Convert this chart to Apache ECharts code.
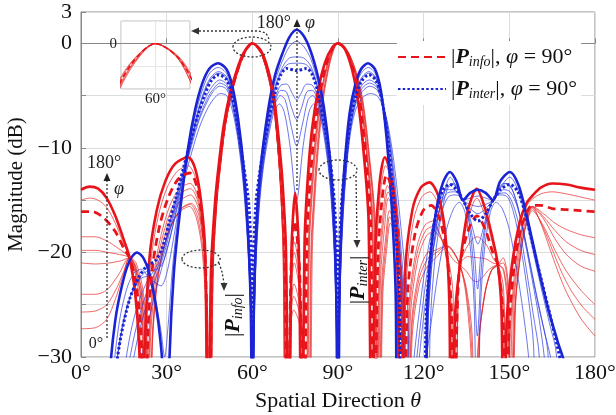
<!DOCTYPE html>
<html>
<head>
<meta charset="utf-8">
<script src="https://cdn.jsdelivr.net/npm/echarts@6/dist/echarts.min.js"></script>
<style>
html, body { margin: 0; padding: 0; background: #fff; }
#chart { width: 616px; height: 415px; }
</style>
</head>
<body>
<div id="chart"></div>
<script>
// beam patterns, [theta (deg), magnitude (dB)]
// |P_info| family, outer (thick) curve first
const red180 = [[0,-14],[3,-13.7],[6,-13.9],[9,-14.8],[12,-16.5],[15,-18.8],[17,-20.5],[19,-24],[20.5,-30],[21.3,-45],[22.2,-30],[24,-20.5],[26.5,-16],[29.5,-13.2],[33,-11.5],[37.5,-10.9],[40,-12],[42,-15],[43.5,-20],[44.5,-45],
  [45.5,-22],[47,-15],[48.5,-11],[50,-7.8],[52,-5],[54.5,-2.6],[57,-0.9],[60,0],[63,-0.7],[65.5,-2.5],[67.5,-5],[69,-8.5],[70.5,-13],[71.8,-20],[72.8,-45],
  [73.7,-20],[75,-14.3],[76.3,-20],[77.3,-45],
  [78.3,-19],[79.5,-12.5],[81,-8],[83,-4.5],[85.5,-1.8],[88,-0.4],[90,0],[92.5,-0.6],[95,-2.6],[97,-5.5],[99,-10.5],[100.7,-17],[101.8,-45],
  [103,-20],[104.5,-13.5],[106.4,-10.9],[108.5,-12.5],[110.5,-17],[112,-45],
  [113.5,-22],[116,-16],[119,-13.8],[122,-13.3],[125,-14.5],[127.5,-18],[129,-25],[129.5,-45],
  [131,-26],[132.7,-21.2],[135.5,-16],[138.6,-13.9],[141.5,-15.8],[144,-18.5],[146,-21.2],[147.3,-26],[148,-45],
  [149,-27],[151,-21],[153.5,-17.2],[156,-15.3],[158,-14.6],[161,-13.8],[165,-13.4],[170,-13.5],[175,-13.8],[180,-14]];
const red150 = [[0,-15],[3,-14.8],[6,-15],[9,-15.7],[12,-17.2],[15,-19.2],[17,-20.5],[19,-23.2],[20.8,-29],[21.7,-45],[22.7,-29],[24.4,-21],[27,-16.6],[30,-13.9],[33.5,-12.3],[37.5,-11.7],[40,-12.8],[42,-15.7],[43.5,-20.8],[44.6,-45],
  [45.6,-22],[47.1,-15],[48.6,-11],[50.1,-7.8],[52.1,-5],[54.6,-2.6],[57.1,-0.9],[60,0],[62.9,-0.7],[65.4,-2.5],[67.4,-5],[68.9,-8.5],[70.3,-13],[71.6,-20],[72.6,-45],
  [73.6,-21],[74.9,-15.6],[76.4,-21],[77.6,-45],
  [78.7,-19],[79.9,-12.8],[81.4,-8.2],[83.3,-4.6],[85.7,-1.8],[88.1,-0.4],[90,0],[92.6,-0.6],[95.2,-2.6],[97.3,-5.5],[99.3,-10.5],[101,-17],[102.2,-45],
  [103.4,-20.5],[104.9,-14.2],[106.7,-11.7],[108.8,-13.3],[110.8,-17.8],[112.4,-45],
  [113.9,-23],[116.4,-17],[119.3,-14.7],[122.2,-14.2],[125.2,-15.5],[127.7,-19],[129.5,-26],[130,-45],
  [131.3,-27],[132.7,-21.2],[135.5,-16.9],[138.6,-14.8],[141.6,-16.6],[144,-19],[146,-21.2],[147.6,-26],[148.4,-45],
  [149.4,-27],[151.3,-21.2],[153.8,-17.3],[156.2,-15.5],[158,-14.9],[161,-14.4],[165,-14.2],[170,-14.4],[175,-14.7],[180,-15]];
const red90 = [[0,-16.1],[4,-16.1],[8,-16.7],[12,-18],[15,-19.6],[17,-20.5],[19,-22.6],[21,-27.5],[22.2,-45],[23.4,-28],[25,-21.5],[27.5,-17.5],[30.5,-14.8],[34,-13],[38,-12.4],[40.5,-13.6],[42.3,-16.6],[43.7,-22],[44.8,-45],
  [45.8,-22],[47.3,-15],[48.8,-11],[50.3,-7.8],[52.3,-5],[54.8,-2.6],[57.2,-0.9],[60,0],[62.8,-0.7],[65.3,-2.5],[67.3,-5],[68.8,-8.6],[70.1,-13.2],[71.4,-20.3],[72.4,-45],
  [73.5,-22],[74.8,-17],[76.6,-22],[78,-45],
  [79.1,-19],[80.3,-13],[81.8,-8.4],[83.6,-4.7],[86,-1.9],[88.2,-0.4],[90,0],[92.7,-0.6],[95.4,-2.6],[97.6,-5.5],[99.6,-10.5],[101.4,-17],[102.7,-45],
  [103.9,-21],[105.4,-15],[107,-12.6],[109.1,-14.2],[111.2,-18.8],[112.8,-45],
  [114.4,-24],[116.9,-18.3],[119.8,-16],[122.6,-15.5],[125.5,-16.7],[128,-20],[129.8,-26],[130.4,-45],
  [131.6,-27],[132.7,-21.2],[135.6,-17.9],[138.7,-16.5],[141.7,-17.9],[144.2,-20],[146,-21.2],[147.9,-27],[148.8,-45],
  [149.8,-28],[151.6,-21.5],[154,-17.8],[156.4,-16],[158,-15.5],[161,-15.5],[165,-15.8],[170,-15.9],[175,-16],[180,-16.1]];
const red60 = [[0,-18.5],[5,-18.5],[9,-18.9],[13,-19.6],[17,-20.5],[19,-22],[21.2,-26],[22.6,-45],[23.9,-28],[25.6,-22],[28,-18.4],[31,-15.6],[34.5,-13.9],[38.2,-13.4],[40.8,-14.6],[42.6,-17.6],[43.9,-23],[45,-45],
  [46,-22],[47.4,-15],[48.9,-11],[50.4,-7.8],[52.4,-5],[54.9,-2.6],[57.3,-0.9],[60,0],[62.8,-0.7],[65.2,-2.5],[67.2,-5.1],[68.7,-8.6],[70,-13.3],[71.2,-20.5],[72.2,-45],
  [73.4,-23.5],[74.8,-19],[76.8,-23.5],[78.5,-45],
  [79.6,-19.5],[80.8,-13.3],[82.2,-8.6],[84,-4.8],[86.3,-1.9],[88.4,-0.4],[90,0],[92.8,-0.6],[95.6,-2.6],[97.9,-5.5],[100,-10.5],[101.8,-17],[103.2,-45],
  [104.4,-21.5],[105.9,-16],[107.3,-13.6],[109.4,-15.2],[111.6,-20],[113.2,-45],
  [114.9,-25],[117.5,-19.6],[120.4,-17.4],[123.2,-17],[125.8,-18.3],[128.3,-21],[130,-27],[130.8,-45],
  [131.9,-26],[132.7,-21.2],[135.7,-19.2],[138.7,-18.5],[141.8,-19.2],[144.4,-20.6],[146,-21.2],[148,-25],[149.2,-45],
  [150.3,-28],[152,-21.5],[154.3,-17.6],[156.5,-16],[158,-15.6],[162,-16.3],[166,-17.2],[170,-17.8],[175,-18.3],[180,-18.6]];
const red52 = [[0,-19.8],[5,-19.8],[9.5,-20],[13.5,-20.2],[17,-20.5],[19.1,-21.7],[21.3,-25.2],[22.8,-45],[24.1,-28],[25.9,-22.2],[28.3,-18.8],[31.3,-16.1],[34.7,-14.4],[38.3,-13.9],[40.9,-15.1],[42.7,-18.2],[44,-23.7],[45,-45],
  [46,-22],[47.4,-15],[48.9,-11],[50.4,-7.8],[52.4,-5],[54.9,-2.6],[57.3,-0.9],[60,0],[62.7,-0.7],[65.1,-2.5],[67.1,-5.1],[68.6,-8.6],[69.9,-13.3],[71.1,-20.5],[72.1,-45],
  [73.3,-24.2],[74.7,-20],[76.9,-24.2],[78.8,-45],
  [79.8,-19.5],[81,-13.4],[82.4,-8.7],[84.1,-4.8],[86.4,-1.9],[88.4,-0.4],[90,0],[92.8,-0.6],[95.7,-2.6],[98,-5.5],[100.1,-10.5],[102,-17],[103.4,-45],
  [104.6,-22],[106.1,-16.6],[107.5,-14.2],[109.5,-15.8],[111.7,-20.5],[113.4,-45],
  [115.1,-25.5],[117.7,-20.1],[120.7,-17.9],[123.5,-17.5],[126,-18.5],[128.5,-20.5],[130.3,-24],[131.2,-45],[132,-25],[132.7,-21.2],[135.4,-20.4],[138.7,-20.5],[141.6,-20.6],[144.2,-21],[146,-21.2],[148,-23.5],[149.8,-45],
  [151,-26],[152.9,-20.5],[155,-17.1],[156.8,-15.9],[158,-15.6],[162,-16.6],[166,-17.9],[170,-19],[175,-19.8],[180,-20.2]];
const red45 = [[0,-21],[5,-21.1],[10,-21],[14,-20.8],[17,-20.5],[19.2,-21.5],[21.5,-24.6],[23,-45],[24.4,-28],[26.3,-22.4],[28.6,-19.2],[31.6,-16.6],[35,-15],[38.4,-14.5],[41,-15.7],[42.8,-18.8],[44.1,-24.5],[45.1,-45],
  [46.1,-22],[47.5,-15],[49,-11],[50.5,-7.8],[52.5,-5],[55,-2.6],[57.4,-0.9],[60,0],[62.7,-0.7],[65.1,-2.5],[67.1,-5.1],[68.6,-8.7],[69.9,-13.4],[71,-20.6],[72,-45],
  [73.3,-25],[74.7,-21],[77,-25],[79,-45],
  [80,-19.5],[81.2,-13.5],[82.6,-8.8],[84.3,-4.9],[86.5,-2],[88.5,-0.4],[90,0],[92.9,-0.6],[95.8,-2.6],[98.2,-5.5],[100.3,-10.5],[102.2,-17],[103.7,-45],
  [104.9,-22.5],[106.4,-17.3],[107.6,-14.8],[109.7,-16.4],[111.9,-21],[113.6,-45],
  [115.4,-26],[118,-20.6],[121,-18.4],[123.8,-18],[126.3,-18.8],[128.7,-20],[130.7,-20.8],[132.7,-21.2],[135,-21.8],[137,-22.6],[138.6,-22.8],[140.5,-22.4],[143,-21.6],[146,-21.2],[148,-21.8],[149.5,-26],[150.4,-45],
  [151.6,-25],[153.8,-19.6],[156,-16.6],[158,-15.7],[162,-16.8],[166,-18.7],[170,-20.2],[175,-21.3],[180,-21.8]];
const red30 = [[0,-24],[5,-24],[9,-23.6],[13,-22.2],[17,-20.5],[19.3,-21],[21.8,-23.8],[23.4,-30],[24.1,-45],[25,-29],[26.8,-22.8],[29.2,-19.4],[32.3,-17],[35.5,-15.7],[38.6,-15.3],[41.2,-16.4],[43,-19.6],[44.3,-25.5],[45.2,-45],
  [46.2,-22],[47.6,-15],[49.1,-11],[50.6,-7.8],[52.6,-5],[55.1,-2.6],[57.5,-0.9],[60,0],[62.7,-0.7],[65,-2.6],[67,-5.1],[68.5,-8.7],[69.8,-13.5],[70.9,-20.6],[71.8,-45],
  [73.2,-26.5],[74.6,-23],[77.3,-26.5],[79.5,-45],
  [80.5,-20],[81.7,-13.8],[83,-9],[84.7,-5],[86.8,-2],[88.6,-0.4],[90,0],[93,-0.6],[96,-2.6],[98.5,-5.6],[100.7,-10.6],[102.6,-17],[104.1,-45],
  [105.3,-23],[106.8,-18.3],[108,-16],[110,-17.5],[112.2,-22],[113.9,-45],
  [115.7,-27],[118.3,-22],[121.3,-20],[124,-19.8],[126.3,-19.5],[128.5,-19.4],[130.6,-20],[132.7,-21.2],[135,-23.5],[137,-28],[138.3,-45],[139.6,-28],[141.8,-23.5],[144,-21.6],[146,-21.2],[148,-21.6],[149.6,-25],[150.6,-45],
  [151.8,-26],[154,-20],[156,-17.3],[158,-16],[162,-17.5],[166,-19.8],[170,-21.8],[175,-23.6],[180,-25]];
const red15 = [[0,-25.7],[5,-25.6],[9,-25],[12.5,-23.4],[15,-21.8],[17,-20.5],[19.2,-21.3],[21.7,-24.4],[23.2,-30],[24,-45],[24.9,-29],[26.6,-22.9],[29.1,-19.4],[32.1,-17.1],[35.2,-15.8],[38.3,-15.4],[40.8,-16.6],[42.7,-19.8],[44.1,-26.2],[45.2,-45],
  [46.2,-22],[47.6,-15],[49.1,-11],[50.6,-7.8],[52.6,-5],[55,-2.6],[57.4,-0.9],[60,0],[62.7,-0.7],[65,-2.6],[67,-5.1],[68.5,-8.7],[69.8,-13.5],[70.8,-20.5],[71.7,-45],
  [73.1,-27.2],[74.5,-24.2],[77.4,-27.2],[79.7,-45],
  [80.7,-20],[81.9,-13.9],[83.2,-9.1],[84.8,-5],[86.9,-2],[88.6,-0.4],[90,0],[93,-0.6],[96.1,-2.6],[98.6,-5.6],[100.8,-10.6],[102.8,-17],[104.3,-45],
  [105.5,-23.5],[107,-18.8],[108.1,-16.6],[110.1,-18],[112.3,-22.5],[114,-45],
  [115.8,-27.5],[118.4,-22.5],[121.4,-20.6],[124.1,-20.1],[126.4,-19.6],[128.5,-19.4],[130.6,-20],[132.7,-21.2],[134.9,-23.7],[136.8,-29],[137.9,-45],[139.2,-29],[141.4,-24],[143.8,-21.7],[146,-21.2],[147.9,-21],[149.6,-24],[150.7,-45],
  [152,-25.5],[154.1,-19.8],[156.1,-17],[158,-15.8],[161.5,-17.4],[165,-19.7],[168.5,-22],[172,-23.8],[176,-25.3],[180,-26.4]];
const red0 = [[0,-27.3],[5,-27.2],[9,-26.4],[12,-24.5],[14.5,-22.4],[17,-20.5],[19,-21.5],[21.5,-25],[23,-30],[23.8,-45],[24.8,-29],[26.5,-23],[29,-19.5],[32,-17.2],[35,-16],[38,-15.6],[40.5,-16.8],[42.5,-20],[44,-27],[45.3,-45],
  [46.3,-22],[47.7,-15],[49.2,-11],[50.6,-7.8],[52.6,-5],[55,-2.6],[57.4,-0.9],[60,0],[62.7,-0.7],[65,-2.6],[67,-5.1],[68.5,-8.7],[69.8,-13.5],[70.8,-20.5],[71.6,-45],
  [73,-28],[74.5,-25.5],[77.5,-28],[80,-45],
  [81,-20],[82.1,-14],[83.4,-9.2],[85,-5.1],[87,-2.1],[88.7,-0.5],[90,0],[93.1,-0.6],[96.2,-2.6],[98.8,-5.6],[101,-10.7],[103,-17],[104.5,-45],
  [105.7,-24],[107.2,-19.3],[108.3,-17.2],[110.3,-18.6],[112.5,-23],[114.2,-45],
  [116,-28],[118.6,-23],[121.6,-21.2],[124.3,-20.5],[126.5,-19.8],[128.5,-19.5],[130.6,-20.1],[132.7,-21.2],[134.8,-24],[136.6,-30],[137.6,-45],[138.8,-30],[141,-24.5],[143.5,-21.8],[146,-21.2],[147.8,-20.5],[149.6,-23],[150.9,-45],
  [152.2,-25],[154.3,-19.5],[156.2,-16.8],[158,-15.6],[161,-17.2],[164,-19.5],[167,-21.8],[170,-23.8],[175,-26.3],[180,-28]];

// |P_inter| family, outer (thick) curve first
const blue180 = [[8,-45],[10,-32],[12,-26.5],[14.5,-23],[17,-20.8],[19.6,-20],[22,-20.6],[24.5,-22.6],[27,-26.5],[28.8,-32],[29.8,-45],[31,-30],[32.5,-22],[34.5,-16.5],[37.5,-10],[40,-6.3],[42.5,-3.8],[45,-2.4],[48,-1.9],[51,-2.5],[53,-4.1],[55,-7.2],[57,-12],[58.5,-18],[59.5,-26],[60,-45],
  [60.5,-26],[61.3,-18],[62.5,-13],[64,-9.3],[66,-5.6],[68,-3],[70.5,-1],[73,0.6],[75.5,1.3],[78,0.7],[80.5,-0.8],[83,-3.2],[85,-6],[87,-10.5],[88.5,-16],[89.4,-24],[90,-45],
  [90.5,-24],[91.2,-17],[92.2,-12],[94,-6.8],[96,-4],[98,-2.5],[100.5,-1.9],[103,-2.5],[105,-4.5],[107,-9],[108.8,-15.5],[110.2,-24],[111,-45],
  [115.5,-34],[120.3,-45],[121.2,-26],[122.5,-20],[124.5,-15.8],[126.8,-13.3],[129.2,-12.3],[131.5,-13.2],[133.8,-15],[136.3,-14.3],[139,-14],[141.7,-14.3],[144.3,-15],[146.8,-13.2],[150.2,-12.3],[153,-13.4],[155.5,-15.8],[158,-18.8],[161,-22.5],[164,-25.8],[167,-28.6],[169.5,-31],[170.5,-45]];
const blue150 = [[9.5,-45],[11.2,-32],[13.5,-26.5],[16,-23.5],[18.5,-22],[21,-21.6],[23.5,-22.4],[26,-24.5],[28,-27.5],[29.3,-30],[30.5,-27],[32.2,-21],[34.5,-15.5],[37.5,-10.4],[40,-6.9],[42.7,-4.3],[45.2,-2.8],[48.1,-2.3],[51,-2.9],[53,-4.5],[55,-7.6],[57,-12.4],[58.5,-18.5],[59.5,-26.5],[60,-45],
  [60.5,-26.5],[61.3,-18.5],[62.5,-13.4],[64,-9.7],[66,-6.1],[68,-3.6],[70.5,-1.7],[73,-0.3],[75.5,0.2],[78,-0.3],[80.5,-1.5],[83,-3.8],[85,-6.5],[87,-11],[88.5,-16.5],[89.4,-24.5],[90,-45],
  [90.5,-24.5],[91.2,-17.5],[92.2,-12.4],[94,-7.2],[96,-4.4],[98,-2.9],[100.6,-2.3],[103.1,-2.9],[105.1,-4.9],[107.1,-9.3],[108.9,-15.8],[110.3,-24],[111.6,-45],
  [116,-34],[120.6,-45],[121.5,-27],[123,-20.5],[125,-16.5],[127.2,-14.2],[129.3,-12.8],[131.5,-13.8],[133.8,-15],[136.3,-14.8],[139,-14.6],[141.7,-14.8],[144.3,-15],[146.8,-13.8],[150.2,-12.8],[153,-14],[155.5,-16.5],[158,-19.5],[161,-23.2],[164,-26.7],[166.5,-29.8],[168,-45]];
const blue120 = [[10,-45],[12,-32],[14.5,-27],[17.5,-24],[20.5,-22.6],[23,-22.3],[25.5,-22.8],[28,-23.2],[30.2,-21.8],[32.5,-18.5],[35,-14.5],[37.8,-10.5],[40.2,-7.3],[42.8,-4.8],[45.3,-3.3],[48.2,-2.7],[51,-3.2],[53,-4.8],[55,-7.9],[57,-12.7],[58.6,-19],[59.6,-27],[60,-45],
  [60.5,-27],[61.3,-19],[62.5,-13.8],[64,-10],[66,-6.5],[68,-4.1],[70.5,-2.3],[73,-1.4],[75.5,-1.3],[78,-1.4],[80.5,-2.2],[83,-4.3],[85,-7],[87,-11.4],[88.5,-17],[89.4,-25],[90,-45],
  [90.5,-25],[91.2,-18],[92.3,-12.8],[94,-7.7],[96,-4.8],[98.2,-3.3],[100.8,-2.7],[103.3,-3.3],[105.4,-5.3],[107.5,-9.6],[109.4,-15.8],[111,-23.5],[112.3,-45],
  [116.5,-34],[121.3,-45],[122.3,-27],[124,-20.5],[126,-16.7],[128.2,-14],[130.5,-13.4],[132.3,-14],[133.8,-15],[136.3,-15.4],[139,-15.6],[141.7,-15.4],[144.3,-15],[146,-14],[148,-13.4],[150.3,-13.6],[152.5,-15.2],[155,-18],[157.5,-21.5],[160.5,-25.5],[163.5,-29.5],[165.5,-45]];
const blue105 = [[10.2,-45],[12,-32],[14.2,-27.6],[17.2,-24.3],[20.2,-22.6],[23,-21.8],[25.8,-21.7],[28.3,-21.2],[30.6,-19.3],[33,-16.4],[35.5,-13.1],[38.2,-9.8],[40.6,-7],[43.1,-4.8],[45.5,-3.4],[48.2,-2.85],[51,-3.35],[53,-4.95],[55,-8],[57,-12.8],[58.6,-19.2],[59.6,-27.2],[60,-45],
  [60.5,-27.2],[61.3,-19.2],[62.5,-14],[64,-10.2],[66,-6.8],[68,-4.4],[70.3,-2.7],[72.8,-1.95],[75.5,-1.9],[78.2,-1.95],[80.7,-2.6],[83,-4.5],[85,-7.2],[87,-11.6],[88.5,-17.2],[89.4,-25.2],[90,-45],
  [90.5,-25.2],[91.2,-18.2],[92.3,-13],[94,-7.9],[96,-5],[98.2,-3.45],[100.85,-2.85],[103.35,-3.45],[105.5,-5.5],[107.6,-9.8],[109.6,-16],[111.2,-23.8],[112.4,-45],
  [116.3,-34],[120.5,-45],[121.5,-27],[123.2,-20.2],[125.3,-16.3],[127.5,-14.1],[129.8,-13.4],[132,-14],[133.8,-15],[136.3,-15.8],[139,-16.3],[141.7,-15.8],[144.3,-15],[146.4,-14],[148.8,-13.4],[151.5,-14.3],[154,-16.8],[156.5,-20],[159.5,-24],[162.5,-27.8],[165,-31],[166.5,-45]];
const blue90 = [[10.5,-45],[12,-32],[14,-28],[17,-24.5],[20,-22.5],[23,-21.3],[26,-20.8],[28.5,-19.5],[31,-17],[33.5,-14.5],[36,-11.8],[38.5,-9.2],[41,-6.8],[43.5,-4.8],[45.8,-3.5],[48.3,-3],[51,-3.5],[53,-5.1],[55,-8.2],[57,-11.8],[58.8,-15.5],[59.6,-21],[59.9,-30],[60,-45],
  [60.1,-30],[60.4,-21],[61.2,-15.5],[62.5,-12.5],[64,-10],[66,-7],[68,-4.6],[70,-3],[72,-2.4],[75.5,-2.6],[79,-2.4],[81,-3],[83,-4.7],[85,-7.4],[87,-10.6],[88.8,-15.5],[89.6,-21],[89.9,-30],[90,-45],
  [90.1,-30],[90.4,-21],[91.2,-15.5],[92.3,-12.2],[94,-8.1],[96,-5.2],[98.3,-3.6],[100.9,-3],[103.4,-3.6],[105.6,-5.7],[107.8,-10],[109.8,-16.2],[111.4,-24],[112.5,-45],
  [116,-34],[119.8,-45],[120.8,-27],[122.5,-19.8],[124.5,-16],[126.8,-14],[129.2,-13.5],[131.5,-14],[133.8,-15],[136.3,-16.3],[139,-17],[141.7,-16.3],[144.3,-15],[146.8,-14],[150.2,-13.5],[153,-14.2],[155.5,-16.2],[158,-19],[161,-22.4],[164,-25.7],[166.5,-28.6],[168.5,-31.5],[169.3,-45]];
const blue60 = [[13,-45],[15,-32],[17.5,-27.5],[20.5,-24.5],[23.5,-22.6],[26.5,-21.3],[29,-19.5],[31.5,-16.8],[34,-14],[36.5,-11.3],[39,-8.8],[41.5,-6.6],[44,-5],[46.3,-4],[48.5,-3.5],[51,-3.9],[53,-5.5],[55,-8.5],[57,-13.3],[58.7,-20],[59.6,-28],[60,-45],
  [60.5,-28],[61.3,-20],[62.5,-14.6],[64,-10.8],[66,-7.4],[68,-5.2],[70,-4],[72,-3.9],[74,-4.8],[75.5,-5.4],[77,-4.8],[79,-3.9],[81,-4],[83,-5.2],[85,-7.8],[87,-12.1],[88.5,-18],[89.4,-26],[90,-45],
  [90.5,-26],[91.2,-19],[92.3,-13.6],[94,-8.5],[96,-5.6],[98.4,-4],[101,-3.5],[103.6,-4],[105.9,-6],[108.3,-10.4],[110.4,-16.6],[112.2,-24],[113.5,-45],
  [116,-32],[119,-24.5],[122,-19],[125,-15.5],[127.8,-14],[130.5,-14],[132.3,-14.4],[133.8,-15],[136,-16.5],[138,-18.6],[139,-19.2],[140,-18.6],[142,-16.5],[144.3,-15],[146.3,-14.4],[148,-14],[150.3,-14.2],[153,-15.8],[155.5,-19],[158,-22.6],[160.5,-26.5],[162.5,-31],[163.3,-45]];
const blue45 = [[14.2,-45],[16.2,-32],[18.8,-27.8],[21.8,-24.8],[24.8,-22.6],[27.7,-20.9],[30.2,-18.6],[32.7,-15.9],[35.2,-13.1],[37.7,-10.5],[40.2,-8.1],[42.7,-6.2],[45.2,-4.8],[47.5,-4],[48.6,-3.8],[51,-4.15],[53,-5.7],[55,-8.7],[57,-13.45],[58.7,-20.2],[59.6,-28],[60,-45],
  [60.5,-28.2],[61.3,-20.2],[62.5,-14.8],[64,-11],[66,-7.6],[68,-5.5],[69.9,-4.5],[71.8,-4.6],[73.8,-6.2],[75.5,-7.3],[77.2,-6.2],[79.2,-4.6],[81.1,-4.5],[83,-5.6],[85,-8],[87,-12.3],[88.5,-18.2],[89.4,-26.2],[90,-45],
  [90.5,-26.2],[91.2,-19.2],[92.3,-13.8],[94,-8.7],[96,-5.8],[98.45,-4.3],[101.1,-3.8],[103.7,-4.25],[106.1,-6.2],[108.6,-10.6],[110.8,-16.8],[112.8,-24.2],[114.2,-45],
  [116.8,-32.5],[119.8,-24.8],[122.8,-19.2],[125.8,-15.7],[128.4,-14.3],[131,-14.2],[133.8,-15],[135.9,-16.7],[137.7,-20],[138.9,-23.5],[140.1,-20],[142,-16.7],[144.3,-15],[146.4,-14.4],[148.5,-14.3],[151,-15.2],[153.5,-17.6],[156,-21.7],[158.3,-25.8],[160.5,-30],[161.4,-45]];
const blue30 = [[15.5,-45],[17.5,-32],[20,-28],[23,-25],[26,-22.6],[28.8,-20.4],[31.3,-17.8],[33.8,-15],[36.3,-12.2],[38.8,-9.7],[41.3,-7.4],[43.8,-5.8],[46.3,-4.6],[48.6,-4.1],[51,-4.4],[53,-5.9],[55,-8.9],[57,-13.6],[58.7,-20.5],[59.6,-28],[60,-45],
  [60.5,-28.5],[61.3,-20.5],[62.5,-15],[64,-11.2],[66,-7.9],[68,-5.8],[69.8,-5],[71.5,-5.4],[73.5,-7.8],[75.5,-9.8],[77.5,-7.8],[79.5,-5.4],[81.2,-5],[83,-6],[85,-8.3],[87,-12.5],[88.5,-18.5],[89.4,-26.5],[90,-45],
  [90.5,-26.5],[91.2,-19.5],[92.3,-14],[94,-8.9],[96,-6],[98.5,-4.6],[101.2,-4.1],[103.8,-4.5],[106.3,-6.4],[108.9,-10.8],[111.2,-17],[113.3,-24.5],[114.8,-45],
  [117.5,-33],[120.5,-25],[123.5,-19.5],[126.5,-16],[129,-14.6],[131.5,-14.5],[133.8,-15],[135.8,-17],[137.5,-21.5],[138.8,-28],[140.2,-21.5],[142,-17],[144.3,-15],[146.5,-14.5],[149,-14.6],[151.5,-16.2],[154,-19.5],[156.5,-24],[158.5,-29],[159.5,-45]];
const blue0 = [[18.5,-45],[20.5,-32],[23,-27.5],[26,-23.8],[29,-20.8],[31.5,-18.2],[34,-15.4],[36.5,-12.7],[39,-10.2],[41.5,-8],[44,-6.4],[46.5,-5.3],[48.8,-4.8],[51,-5],[53,-6.4],[55,-9.3],[57,-14],[58.7,-21],[59.6,-28.5],[60,-45],
  [60.5,-29],[61.3,-21],[62.5,-15.4],[64,-11.6],[66,-8.4],[67.8,-6.4],[69.5,-5.8],[71.2,-6.6],[73.2,-9.8],[75.5,-15],[77.8,-9.8],[79.8,-6.6],[81.5,-5.8],[83.2,-6.5],[85,-8.7],[87,-12.9],[88.5,-19],[89.4,-27],[90,-45],
  [90.5,-27],[91.2,-20],[92.3,-14.4],[94,-9.3],[96,-6.5],[98.6,-5.2],[101.4,-4.8],[104,-5.1],[106.7,-6.8],[109.5,-11.2],[112,-17.5],[114.3,-25],[116,-45],
  [119,-34],[122,-28],[125,-22],[128,-17.8],[130.5,-15.8],[132.5,-15.2],[134.5,-16.2],[136.5,-20],[137.8,-26],[138.8,-45],[139.8,-26],[141.2,-20],[143.3,-16.2],[145.3,-15.2],[147.5,-15.8],[150,-17.8],[152.5,-21.5],[155,-26],[157,-31],[158,-45]];

const thetaTicks = [0, 30, 60, 90, 120, 150, 180];
const dbLabels = [3, 0, -10, -20, -30];

const SERIF = '"Liberation Serif", "Times New Roman", serif';
const RED = '#e8141b';
const BLUE = '#1a24d4';
const RED_THIN = 'rgba(232,40,40,0.7)';
const BLUE_THIN = 'rgba(45,60,225,0.7)';

function curve (data, color, width, type, name, axis) {
  return {
    type: 'line',
    name: name,
    data: data,
    xAxisIndex: axis || 0,
    yAxisIndex: axis || 0,
    symbol: 'none',
    smooth: 0.3,
    silent: true,
    lineStyle: { color: color, width: width, type: type || 'solid' },
    itemStyle: { color: color }
  }
}

const chart = echarts.init(document.getElementById('chart'), null, { renderer: 'canvas' })

const rich = {
  p: { fontFamily: SERIF, fontSize: 22, fontStyle: 'italic', fontWeight: 'bold', color: '#111' },
  s: { fontFamily: SERIF, fontSize: 14, fontStyle: 'italic', color: '#111', padding: [11, 0, 0, 0] },
  i: { fontFamily: SERIF, fontSize: 22, fontStyle: 'italic', color: '#111' },
  t: { fontFamily: SERIF, fontSize: 22, color: '#111' }
}

const dotted = { stroke: '#333', lineWidth: 1.3, lineDash: [2, 2], fill: null }
const txt = (x, y, text, size, italic, align) => ({
  type: 'text', x: x, y: y, z: 100,
  style: {
    text: text, fill: '#222',
    font: (italic ? 'italic ' : '') + size + 'px ' + SERIF,
    align: align || 'center', verticalAlign: 'middle',
    textAlign: align || 'center', textVerticalAlign: 'middle'
  }
})

const option = {
  animation: false,
  backgroundColor: '#fff',
  grid: [
    { left: 81, top: 12, right: 21, bottom: 58, show: true, borderColor: '#888', borderWidth: 1, outerBoundsMode: 'none' },
    { left: 121, top: 21, width: 69, height: 68, show: true, borderColor: '#bbb', borderWidth: 1, backgroundColor: '#fff', outerBoundsMode: 'none' }
  ],
  legend: {
    data: ['info', 'inter'],
    left: 397,
    top: 41,
    orient: 'vertical',
    itemWidth: 48,
    itemHeight: 12,
    itemGap: 4,
    padding: [2, 4, 2, 0],
    backgroundColor: '#fff',
    itemStyle: { opacity: 0 },
    formatter: n => n === 'info'
      ? '{t||}{p|P}{s|info}{t||, }{i|φ}{t| = 90°}'
      : '{t||}{p|P}{s|inter}{t||, }{i|φ}{t| = 90°}',
    textStyle: { fontFamily: SERIF, fontSize: 22, color: '#111', lineHeight: 28, rich: rich }
  },
  xAxis: [
    {
      type: 'value', min: 0, max: 180, interval: 30,
      name: 'Spatial Direction {i|θ}', nameLocation: 'middle', nameGap: 33,
      nameTextStyle: { fontFamily: SERIF, fontSize: 22, color: '#111', rich: { i: { fontFamily: SERIF, fontSize: 22, fontStyle: 'italic', color: '#111' } } },
      axisLine: { lineStyle: { color: '#888' } },
      axisTick: { inside: true, length: 5, lineStyle: { color: '#888' } },
      axisLabel: { fontFamily: SERIF, fontSize: 22, color: '#111', margin: 5, formatter: v => thetaTicks.includes(v) ? v + '°' : '' },
      splitLine: { lineStyle: { color: '#dcdcdc' } }
    },
    {
      type: 'value', gridIndex: 1, min: 56, max: 64, interval: 4,
      axisLine: { show: false }, axisTick: { show: false },
      axisLabel: { fontFamily: SERIF, fontSize: 15, color: '#222', margin: 3, formatter: v => v === 60 ? '60°' : '' },
      splitLine: { lineStyle: { color: '#e6e6e6' } }
    }
  ],
  yAxis: [
    {
      type: 'value', min: -30, max: 3, interval: 5,
      name: 'Magnitude (dB)', nameLocation: 'middle', nameGap: 47,
      nameTextStyle: { fontFamily: SERIF, fontSize: 21, color: '#111' },
      axisLine: { lineStyle: { color: '#888' } },
      axisTick: { inside: true, length: 5, lineStyle: { color: '#888' } },
      axisLabel: {
        fontFamily: SERIF, fontSize: 22, color: '#111', margin: 9,
        formatter: v => dbLabels.includes(v) ? (v < 0 ? '−' + (-v) : String(v)) : ''
      },
      splitLine: { lineStyle: { color: '#dcdcdc' } }
    },
    {
      type: 'value', gridIndex: 1, min: -2, max: 1, interval: 1,
      axisLine: { show: false }, axisTick: { show: false },
      axisLabel: { fontFamily: SERIF, fontSize: 15, color: '#222', margin: 4, formatter: v => v === 0 ? '0' : '' },
      splitLine: { lineStyle: { color: '#e6e6e6' } }
    }
  ],
  series: [
    curve(red150, RED_THIN, 1), curve(red60, RED_THIN, 1), curve(red52, RED_THIN, 1), curve(red45, RED_THIN, 1),
    curve(red30, RED_THIN, 1), curve(red15, RED_THIN, 1), curve(red0, RED_THIN, 1),
    curve(blue150, BLUE_THIN, 1), curve(blue120, BLUE_THIN, 1), curve(blue105, BLUE_THIN, 1), curve(blue60, BLUE_THIN, 1),
    curve(blue45, BLUE_THIN, 1), curve(blue30, BLUE_THIN, 1), curve(blue0, BLUE_THIN, 1),
    curve(red180, RED, 2.6),
    curve(blue180, BLUE, 2.6),
    curve(red90, RED, 2.8, [8, 5], 'info'),
    curve(blue90, BLUE, 3, [2.5, 2.2], 'inter'),
    // inset around the 60° peak
    curve(red180, RED_THIN, 1, 'solid', null, 1), curve(red150, RED_THIN, 1, 'solid', null, 1),
    curve(red60, RED_THIN, 1, 'solid', null, 1), curve(red30, RED_THIN, 1, 'solid', null, 1),
    curve(red0, RED_THIN, 1, 'solid', null, 1),
    curve(red90, RED, 1.6, [5, 3], null, 1)
  ],
  graphic: [
    { type: 'ellipse', z: 100, shape: { cx: 252, cy: 47, rx: 19, ry: 10 }, style: dotted },
    { type: 'polyline', z: 100, shape: { points: [[269, 39], [266, 33], [258, 31], [198, 31]] }, style: dotted },
    { type: 'polygon', z: 100, shape: { points: [[191, 31], [199, 27.5], [199, 34.5]] }, style: { fill: '#333' } },
    { type: 'ellipse', z: 100, shape: { cx: 201, cy: 259, rx: 19, ry: 9 }, style: dotted },
    { type: 'polyline', z: 100, shape: { points: [[219, 263], [222, 272], [224, 283]] }, style: dotted },
    { type: 'polygon', z: 100, shape: { points: [[224, 291], [220.5, 283], [227.5, 283]] }, style: { fill: '#333' } },
    { type: 'ellipse', z: 100, shape: { cx: 338, cy: 170, rx: 19, ry: 10 }, style: dotted },
    { type: 'polyline', z: 100, shape: { points: [[356, 176], [357, 241]] }, style: dotted },
    { type: 'polygon', z: 100, shape: { points: [[357, 248], [353.5, 240], [360.5, 240]] }, style: { fill: '#333' } },
    { type: 'polyline', z: 100, shape: { points: [[297, 190], [297, 28]] }, style: dotted },
    { type: 'polygon', z: 100, shape: { points: [[297, 19], [293.5, 27], [300.5, 27]] }, style: { fill: '#222' } },
    { type: 'polyline', z: 100, shape: { points: [[107, 338], [107, 181]] }, style: dotted },
    { type: 'polygon', z: 100, shape: { points: [[107, 173], [103.5, 181], [110.5, 181]] }, style: { fill: '#222' } },
    txt(291, 23, '180°', 18, false, 'right'),
    txt(310, 23, 'φ', 18, true),
    txt(104, 163, '180°', 18),
    txt(119, 189, 'φ', 18, true),
    txt(96, 344, '0°', 16),
    {
      type: 'text', x: 233, y: 315, rotation: Math.PI / 2, z: 100,
      style: { text: '{t||}{p|P}{s|info}{t||}', rich: rich, font: '22px ' + SERIF, fill: '#111', align: 'center', verticalAlign: 'middle', textAlign: 'center', textVerticalAlign: 'middle' }
    },
    {
      type: 'text', x: 358, y: 280, rotation: Math.PI / 2, z: 100,
      style: { text: '{t||}{p|P}{s|inter}{t||}', rich: rich, font: '22px ' + SERIF, fill: '#111', align: 'center', verticalAlign: 'middle', textAlign: 'center', textVerticalAlign: 'middle' }
    }
  ]
}

chart.setOption(option)
</script>
</body>
</html>
